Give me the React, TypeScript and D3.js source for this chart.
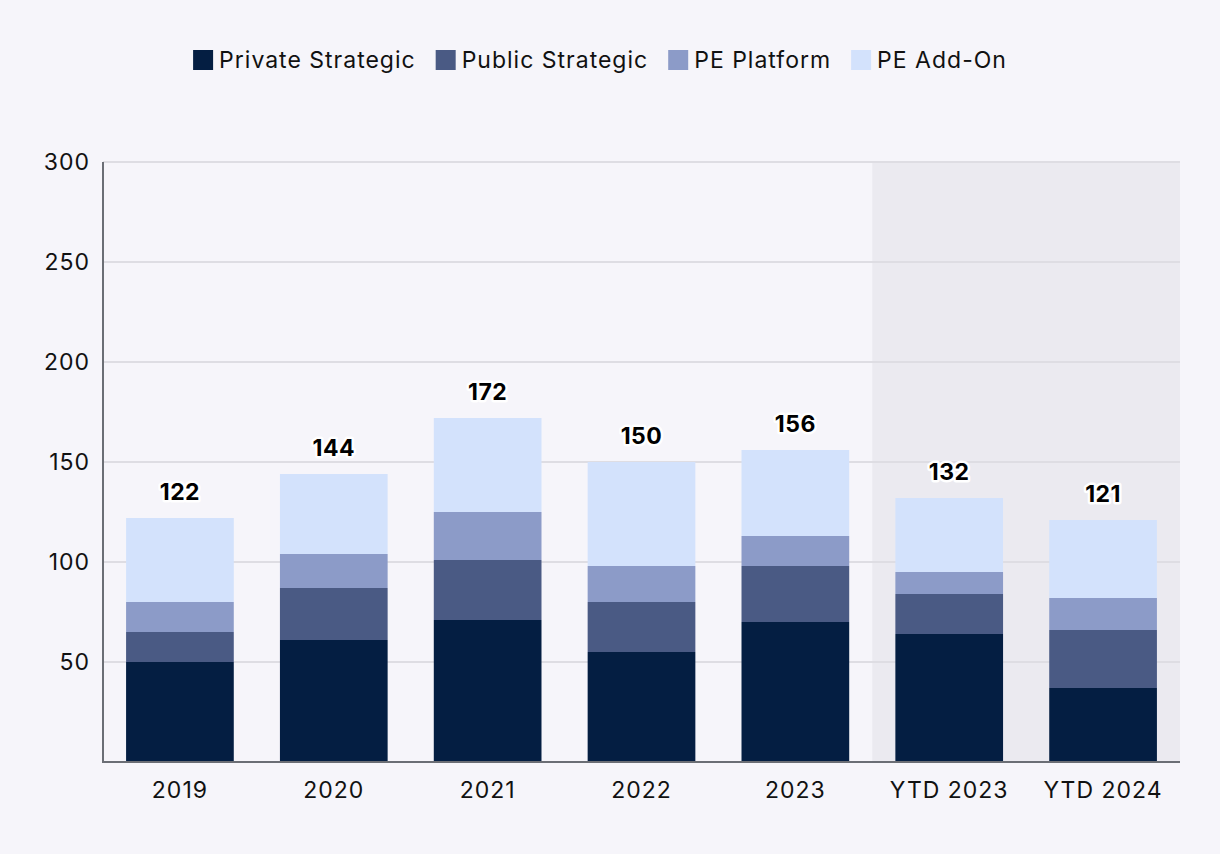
import React, { useEffect, useRef } from "react";
import * as d3 from "d3";

const categories = ["2019", "2020", "2021", "2022", "2023", "YTD 2023", "YTD 2024"];
const seriesNames = ["Private Strategic", "Public Strategic", "PE Platform", "PE Add-On"];
const privateStrategic = [50, 61, 71, 55, 70, 64, 37];
const publicStrategic = [15, 26, 30, 25, 28, 20, 29];
const pePlatform = [15, 17, 24, 18, 15, 11, 16];
const peAddOn = [42, 40, 47, 52, 43, 37, 39];
const yTicks = [50, 100, 150, 200, 250, 300];
const colors = ["#041e42", "#4a5a84", "#8c9bc8", "#d3e2fc"];
const shadedFrom = "YTD 2023";

const W = 1220;
const H = 854;
const FONT = "Inter, 'Noto Sans', sans-serif";
const FS = 23;
const LS = 1;

export default function App() {
  const ref = useRef<SVGSVGElement>(null);

  useEffect(() => {
    const svg = d3.select(ref.current);
    svg.selectAll("*").remove();

    const left = 103, right = 1180, top = 162, bottom = 762;
    const x = d3.scaleBand().domain(categories).range([left, right]).paddingInner(0.3).paddingOuter(0.15);
    const y = d3.scaleLinear().domain([0, 300]).range([bottom, top]);

    svg.append("rect").attr("width", W).attr("height", H).attr("fill", "#f6f5fa");

    // shaded region
    const step = x.step();
    const sx = (x(shadedFrom) as number) - (step - x.bandwidth()) / 2;
    svg.append("rect").attr("x", sx).attr("y", top).attr("width", right - sx).attr("height", bottom - top).attr("fill", "#ebeaf0");

    // grid
    svg.append("g").selectAll("line").data(yTicks).join("line")
      .attr("x1", left).attr("x2", right)
      .attr("y1", (d) => y(d)).attr("y2", (d) => y(d))
      .attr("stroke", "#dedde3").attr("stroke-width", 2);

    // stacked data
    const rows = categories.map((c, i) => ({
      cat: c,
      "Private Strategic": privateStrategic[i],
      "Public Strategic": publicStrategic[i],
      "PE Platform": pePlatform[i],
      "PE Add-On": peAddOn[i],
    }));
    const stack = d3.stack<any>().keys(seriesNames)(rows);
    const g = svg.append("g");
    stack.forEach((s, si) => {
      g.append("g").attr("fill", colors[si]).selectAll("rect").data(s).join("rect")
        .attr("x", (d: any) => x(d.data.cat) as number)
        .attr("width", x.bandwidth())
        .attr("y", (d: any) => y(d[1]))
        .attr("height", (d: any) => y(d[0]) - y(d[1]));
    });

    // totals
    const totals = rows.map((r, i) => privateStrategic[i] + publicStrategic[i] + pePlatform[i] + peAddOn[i]);
    svg.append("g").selectAll("text").data(categories).join("text")
      .attr("x", (d) => (x(d) as number) + x.bandwidth() / 2)
      .attr("y", (d, i) => y(totals[i]) - 18)
      .attr("text-anchor", "middle")
      .attr("font-family", FONT).attr("font-size", FS).attr("font-weight", 700)
      .attr("letter-spacing", 0.5)
      .attr("fill", "#000").attr("stroke", "#fff").attr("stroke-width", 5)
      .attr("stroke-linejoin", "round").attr("paint-order", "stroke")
      .text((d, i) => String(totals[i]));

    // axes lines
    svg.append("line").attr("x1", left).attr("x2", left).attr("y1", top).attr("y2", bottom + 1)
      .attr("stroke", "#6b6e75").attr("stroke-width", 2);
    svg.append("line").attr("x1", left).attr("x2", right).attr("y1", bottom).attr("y2", bottom)
      .attr("stroke", "#6b6e75").attr("stroke-width", 2);

    // y tick labels
    svg.append("g").selectAll("text").data(yTicks).join("text")
      .attr("x", 90).attr("y", (d) => y(d)).attr("dy", "0.36em")
      .attr("text-anchor", "end")
      .attr("font-family", FONT).attr("font-size", FS).attr("letter-spacing", LS).attr("fill", "#111")
      .text((d) => String(d));

    // x labels
    svg.append("g").selectAll("text").data(categories).join("text")
      .attr("x", (d) => (x(d) as number) + x.bandwidth() / 2).attr("y", 790).attr("dy", "0.36em")
      .attr("text-anchor", "middle")
      .attr("font-family", FONT).attr("font-size", FS).attr("letter-spacing", LS).attr("fill", "#111")
      .text((d) => d);

    // legend
    const lg = svg.append("g");
    const items = seriesNames.map((n, i) => {
      const it = lg.append("g");
      it.append("rect").attr("width", 20).attr("height", 20).attr("y", 50).attr("fill", colors[i]);
      const t = it.append("text").attr("x", 26).attr("y", 60).attr("dy", "0.36em")
        .attr("font-family", FONT).attr("font-size", FS).attr("letter-spacing", LS).attr("fill", "#111").text(n);
      const w = 26 + (t.node() as SVGTextElement).getComputedTextLength();
      return { it, w };
    });
    const gap = 20;
    const total = d3.sum(items, (d) => d.w) + gap * (items.length - 1);
    let cx = 600 - total / 2;
    items.forEach((d) => {
      d.it.attr("transform", `translate(${cx},0)`);
      cx += d.w + gap;
    });
  }, []);

  return (
    <svg ref={ref} width={W} height={H} style={{ position: "absolute", left: 0, top: 0, display: "block" }} />
  );
}
